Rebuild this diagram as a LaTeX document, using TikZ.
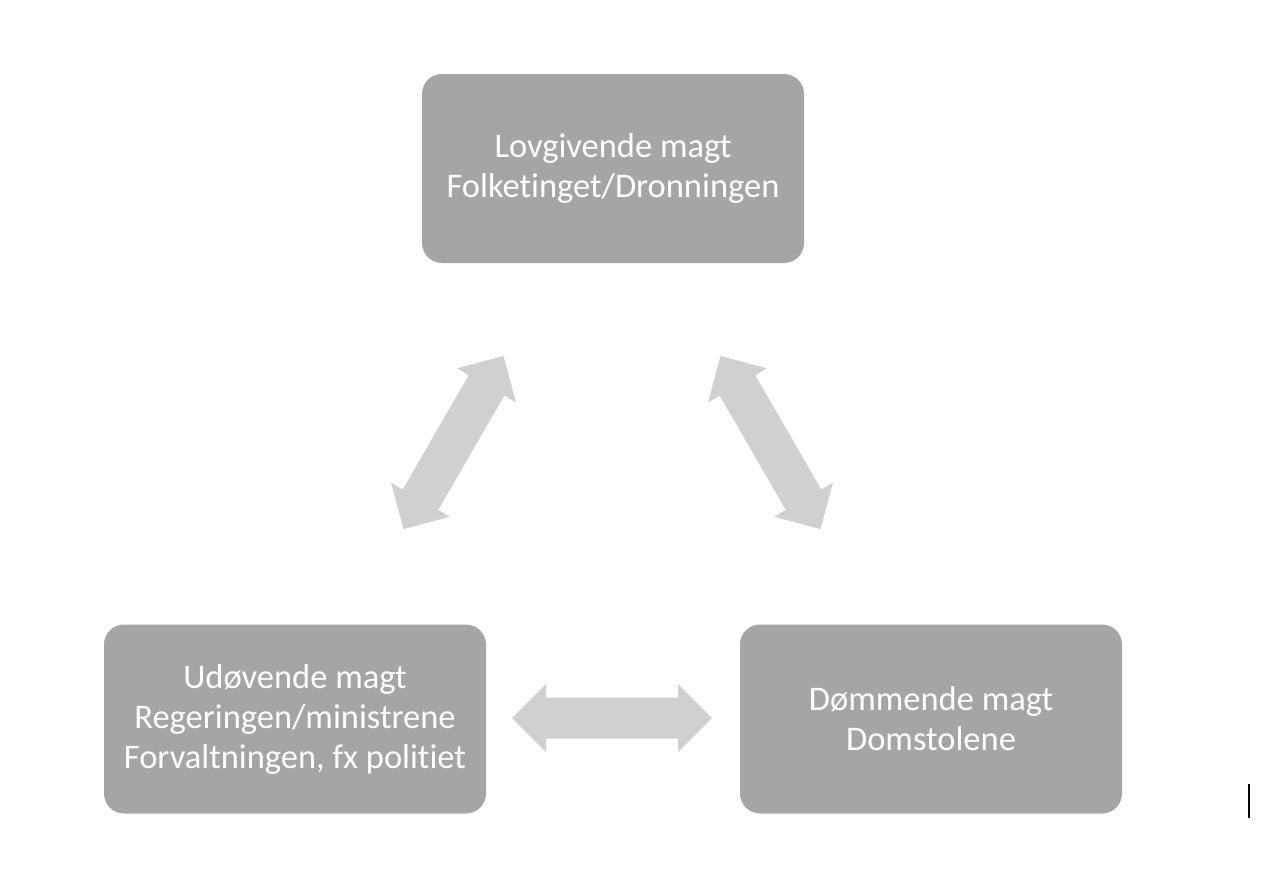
\documentclass[tikz,border=0pt]{standalone}
\usepackage{fontspec}
\setmainfont{Carlito}[Ligatures=NoCommon]
\definecolor{boxgray}{HTML}{A5A5A5}
\definecolor{arrowgray}{HTML}{D0D0D0}
\tikzset{
  powerbox/.style={fill=boxgray, draw=none, rounded corners=20pt,
    minimum width=382pt, minimum height=189pt, inner sep=0pt,
    align=center, text=white,
    font=\fontsize{34.5}{40}\selectfont},
  blockarrow/.style={fill=arrowgray, draw=none}
}
\newcommand{\dblarrowpath}{(-100,0) -- (-66,-34) -- (-66,-20.5) -- (66,-20.5) -- (66,-34) -- (100,0) -- (66,34) -- (66,20.5) -- (-66,20.5) -- (-66,34) -- cycle}
\begin{document}
\begin{tikzpicture}[x=1pt,y=-1pt]
\useasboundingbox (0,0) rectangle (1268,892);
\fill[white] (0,0) rectangle (1268,892);

\node[powerbox] (lov) at (613,168.5) {Lovgivende magt\\Folketinget/Dronningen};
\node[powerbox] (udo) at (295,719) {Udøvende magt\\Regeringen/ministrene\\Forvaltningen, fx politiet};
\node[powerbox] (dom) at (931,719) {Dømmende magt\\Domstolene};

\begin{scope}[shift={(453.5,442.5)}, rotate=60]
  \fill[blockarrow] \dblarrowpath;
\end{scope}
\begin{scope}[shift={(770.5,442.5)}, rotate=-60]
  \fill[blockarrow] \dblarrowpath;
\end{scope}
\begin{scope}[shift={(612,718)}]
  \fill[blockarrow] \dblarrowpath;
\end{scope}

\coordinate (cursorTop) at (1249,784);
\coordinate (cursorBot) at (1249,818);
\draw[line width=2pt, black] (cursorTop) -- (cursorBot);
\end{tikzpicture}
\end{document}
